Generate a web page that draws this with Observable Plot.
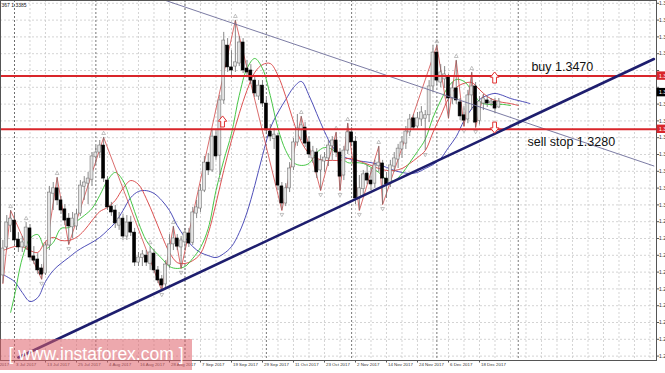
<!DOCTYPE html>
<html><head><meta charset="utf-8">
<script src="https://cdn.jsdelivr.net/npm/d3@7"></script>
<script src="https://cdn.jsdelivr.net/npm/@observablehq/plot@0.6"></script>
<style>
html,body{margin:0;padding:0;background:#fff;overflow:hidden;}
#wrap{position:relative;width:665px;height:373px;overflow:hidden;}
#wm{position:absolute;left:0;top:339px;width:192px;height:31px;background:rgba(222,96,106,0.55);color:#fff;font:17.5px "Liberation Sans",Arial,sans-serif;line-height:31px;text-align:center;white-space:nowrap;}
</style></head><body>
<div id="wrap"><div id="chart"></div><div id="wm">[ www.instaforex.com ]</div></div>
<script>
// ---- candle data (daily bars, bar index 0 = 3 Jul 2017) ----
const FIRST_BAR = -3;
const opens = [1.2758,1.2858,1.2936,1.2954,1.2886,1.2858,1.2861,1.2926,1.2826,1.2815,1.2783,1.2765,1.2865,1.3050,1.3069,1.3026,1.2994,1.2961,1.2930,1.2933,1.2979,1.3075,1.3086,1.3100,1.3180,1.3197,1.3222,1.3097,1.3004,1.2990,1.2936,1.2961,1.2897,1.2947,1.2911,1.2804,1.2820,1.2829,1.2800,1.2836,1.2776,1.2744,1.2726,1.2794,1.2869,1.2890,1.2858,1.2876,1.2908,1.2875,1.2979,1.2997,1.3061,1.3161,1.3133,1.3254,1.3186,1.3383,1.3579,1.3501,1.3504,1.3515,1.3590,1.3497,1.3490,1.3454,1.3397,1.3436,1.3372,1.3272,1.3245,1.3255,1.3076,1.3015,1.3069,1.3144,1.3233,1.3276,1.3286,1.3233,1.3176,1.3197,1.3133,1.3165,1.3176,1.3219,1.3240,1.3197,1.3115,1.3204,1.3269,1.3236,1.3033,1.3066,1.3122,1.3097,1.3086,1.3148,1.3158,1.3104,1.3086,1.3147,1.3172,1.3208,1.3229,1.3269,1.3319,1.3290,1.3315,1.3318,1.3330,1.3433,1.3554,1.3447,1.3458,1.3470,1.3390,1.3426,1.3376,1.3330,1.3315,1.3401,1.3433,1.3310,1.3372,1.3383,1.3372,1.3379,1.3358];
const highs = [1.2883,1.2972,1.2990,1.2976,1.2911,1.2897,1.2947,1.2940,1.2861,1.2836,1.2797,1.2876,1.3076,1.3090,1.3108,1.3040,1.3011,1.2979,1.2983,1.2994,1.3097,1.3111,1.3126,1.3197,1.3219,1.3240,1.3251,1.3111,1.3019,1.3008,1.2983,1.2976,1.2972,1.2969,1.2926,1.2840,1.2847,1.2847,1.2861,1.2851,1.2790,1.2758,1.2811,1.2904,1.2933,1.2904,1.2897,1.2926,1.2926,1.3001,1.3026,1.3083,1.3183,1.3194,1.3276,1.3276,1.3401,1.3626,1.3604,1.3561,1.3669,1.3611,1.3604,1.3526,1.3511,1.3469,1.3454,1.3454,1.3390,1.3297,1.3283,1.3265,1.3090,1.3086,1.3161,1.3247,1.3333,1.3326,1.3304,1.3254,1.3219,1.3211,1.3186,1.3197,1.3240,1.3254,1.3269,1.3211,1.3219,1.3301,1.3286,1.3254,1.3115,1.3133,1.3151,1.3140,1.3169,1.3219,1.3169,1.3126,1.3169,1.3197,1.3226,1.3254,1.3290,1.3333,1.3333,1.3340,1.3361,1.3347,1.3454,1.3579,1.3579,1.3511,1.3504,1.3476,1.3447,1.3526,1.3390,1.3361,1.3419,1.3483,1.3447,1.3397,1.3404,1.3397,1.3390,1.3390,1.3390];
const lows = [1.2729,1.2847,1.2911,1.2869,1.2840,1.2840,1.2847,1.2811,1.2797,1.2761,1.2744,1.2758,1.2847,1.2990,1.3008,1.2976,1.2936,1.2868,1.2890,1.2919,1.2969,1.3026,1.3011,1.3076,1.3151,1.3176,1.3090,1.2990,1.2969,1.2926,1.2919,1.2883,1.2883,1.2897,1.2790,1.2790,1.2790,1.2790,1.2776,1.2765,1.2729,1.2704,1.2715,1.2783,1.2847,1.2847,1.2783,1.2847,1.2858,1.2865,1.2961,1.2983,1.3054,1.3115,1.3126,1.3169,1.3115,1.3369,1.3483,1.3461,1.3483,1.3504,1.3479,1.3469,1.3440,1.3394,1.3383,1.3358,1.3261,1.3236,1.3208,1.3061,1.2990,1.3004,1.3054,1.3133,1.3219,1.3240,1.3215,1.3176,1.3158,1.3104,1.3061,1.3126,1.3147,1.3169,1.3179,1.3061,1.3097,1.3190,1.3219,1.3011,1.2990,1.3040,1.3083,1.3061,1.3069,1.3126,1.3011,1.3033,1.3072,1.3126,1.3140,1.3176,1.3208,1.3254,1.3276,1.3283,1.3290,1.3204,1.3304,1.3411,1.3436,1.3429,1.3426,1.3319,1.3369,1.3369,1.3311,1.3290,1.3300,1.3347,1.3286,1.3296,1.3347,1.3358,1.3361,1.3336,1.3354];
const closes = [1.2854,1.2947,1.2961,1.2883,1.2858,1.2876,1.2929,1.2822,1.2811,1.2776,1.2761,1.2865,1.3054,1.3069,1.3026,1.2990,1.2954,1.2933,1.2961,1.2976,1.3079,1.3090,1.3104,1.3183,1.3197,1.3222,1.3104,1.3001,1.2983,1.2944,1.2961,1.2897,1.2947,1.2911,1.2804,1.2822,1.2833,1.2804,1.2840,1.2776,1.2740,1.2722,1.2797,1.2869,1.2890,1.2861,1.2883,1.2911,1.2872,1.2983,1.3001,1.3061,1.3161,1.3133,1.3254,1.3183,1.3383,1.3597,1.3501,1.3490,1.3519,1.3590,1.3490,1.3483,1.3454,1.3408,1.3436,1.3372,1.3276,1.3254,1.3261,1.3079,1.3015,1.3069,1.3140,1.3233,1.3283,1.3294,1.3229,1.3190,1.3201,1.3126,1.3169,1.3179,1.3222,1.3240,1.3197,1.3111,1.3204,1.3269,1.3233,1.3033,1.3069,1.3119,1.3097,1.3083,1.3151,1.3161,1.3104,1.3083,1.3151,1.3176,1.3211,1.3233,1.3272,1.3315,1.3286,1.3319,1.3340,1.3330,1.3433,1.3554,1.3454,1.3483,1.3476,1.3390,1.3426,1.3383,1.3326,1.3311,1.3401,1.3433,1.3304,1.3379,1.3390,1.3372,1.3379,1.3354,1.3379];

// ---- Alligator lines ----
const jawIdx = [-4,-2,0,2,4,6,8,10,12,14,16,18,20,22,24,26,28,30,32,34,36,38,40,42,44,46,48,50,52,54,56,58,60,62,64,66,68,70,72,74,76,78,80,82,84,86,88,90,92,94,96,98,100,102,104,106,108,110,112,114,116,118,120,122,124,126,128,130,132,133];
const jaw = [1.2769,1.2754,1.2736,1.2697,1.2665,1.2679,1.2736,1.2776,1.2801,1.2822,1.2844,1.2861,1.2876,1.2894,1.2919,1.2947,1.2990,1.3036,1.3058,1.3061,1.3051,1.3026,1.2990,1.2936,1.2894,1.2861,1.2840,1.2829,1.2822,1.2836,1.2861,1.2911,1.2983,1.3079,1.3186,1.3283,1.3340,1.3386,1.3429,1.3451,1.3401,1.3336,1.3272,1.3219,1.3190,1.3176,1.3169,1.3165,1.3161,1.3154,1.3144,1.3133,1.3126,1.3122,1.3126,1.3140,1.3154,1.3176,1.3215,1.3254,1.3311,1.3354,1.3386,1.3401,1.3408,1.3401,1.3390,1.3383,1.3376,1.3372];
const teethIdx = [-3,0,2,4,6,8,10,12,14,16,18,20,22,24,26,28,30,32,34,36,38,40,42,44,46,48,50,52,54,56,58,60,62,64,66,68,70,72,74,76,78,80,82,84,86,88,90,92,94,96,98,100,102,104,106,108,110,112,114,116,118,120,122,124,126,128,130];
const teeth = [1.2847,1.2861,1.2861,1.2847,1.2840,1.2879,1.2894,1.2883,1.2883,1.2894,1.2919,1.2954,1.2986,1.3001,1.3026,1.3069,1.3097,1.3083,1.3033,1.2969,1.2901,1.2840,1.2804,1.2801,1.2811,1.2836,1.2908,1.3015,1.3133,1.3240,1.3336,1.3419,1.3483,1.3511,1.3515,1.3472,1.3397,1.3308,1.3236,1.3194,1.3176,1.3169,1.3169,1.3169,1.3176,1.3172,1.3161,1.3151,1.3140,1.3133,1.3133,1.3140,1.3158,1.3179,1.3204,1.3269,1.3329,1.3390,1.3429,1.3444,1.3447,1.3422,1.3397,1.3383,1.3376,1.3372,1.3365];
const lipsIdx = [-1,0,2,4,6,8,10,12,14,16,18,20,22,24,26,28,30,32,34,36,38,40,42,44,46,48,50,52,54,56,58,60,62,64,66,68,70,72,74,76,78,80,82,84,86,88,90,92,94,96,98,100,102,104,106,108,110,112,114,116,118,120,122,124,126,128];
const lips = [1.2626,1.2686,1.2819,1.2890,1.2904,1.2854,1.2876,1.2926,1.2929,1.2951,1.2972,1.2997,1.3044,1.3097,1.3126,1.3097,1.3026,1.2947,1.2883,1.2847,1.2819,1.2790,1.2783,1.2790,1.2819,1.2858,1.2926,1.3061,1.3169,1.3265,1.3401,1.3497,1.3533,1.3497,1.3401,1.3283,1.3204,1.3161,1.3151,1.3158,1.3197,1.3215,1.3208,1.3186,1.3161,1.3161,1.3158,1.3144,1.3126,1.3101,1.3097,1.3122,1.3161,1.3201,1.3244,1.3322,1.3383,1.3433,1.3458,1.3451,1.3419,1.3379,1.3369,1.3369,1.3369,1.3365];

// ---- ZigZag & fractals ----
const zzIdx = [-3,-1,7,11,14,23,38,41,43,57,69,74,79,83,84,86,89,94,95,109,112,114,116,118,119,121];
const zzPrice = [1.2729,1.2990,1.2744,1.3108,1.2868,1.3251,1.2704,1.2933,1.2783,1.3669,1.2990,1.3326,1.3061,1.3269,1.3061,1.3301,1.2990,1.3219,1.3011,1.3579,1.3319,1.3526,1.3290,1.3483,1.3286,1.3404];
const fractalUp = [-1,3,11,23,35,41,57,74,83,86,94,109,114,118];
const fractalDown = [7,14,38,43,53,69,79,84,89,95,106,116,119];

// ---- drawn objects ----
const trendUpIdx = [1,165], trendUpPrice = [1.2465,1.3531];
const trendDownIdx = [39,165], trendDownPrice = [1.3740,1.3149];
const levels = [1.3470,1.3280];
const levelTexts = ["buy 1.3470","sell stop 1.3280"];
const levelTextIdx = [133.4,132.4], levelTextPrice = [1.3504,1.3233];
const arrowsUp = [{i:53.7,p:1.3308},{i:123.9,p:1.3465}];
const arrowsDown = [{i:123.9,p:1.3286}];
const lastPrice = 1.3411;

// ---- axes ----
const priceTicks = [1.2470,1.2530,1.2590,1.2650,1.2710,1.2770,1.2830,1.2890,1.2950,1.3010,1.3070,1.3130,1.3190,1.3250,1.3310,1.3370,1.3430,1.3490,1.3550,1.3610,1.3670,1.3730];
const dateTickIdx = [-8,0,8,16,24,32,40,48,56,64,72,80,88,96,104,112,120];
const dateTickLabels = ["21 Jun 2017","3 Jul 2017","13 Jul 2017","25 Jul 2017","4 Aug 2017","16 Aug 2017","28 Aug 2017","7 Sep 2017","19 Sep 2017","29 Sep 2017","11 Oct 2017","23 Oct 2017","2 Nov 2017","14 Nov 2017","24 Nov 2017","6 Dec 2017","18 Dec 2017"];
const monthStartIdx = [0,21,44,65,87,109,130];
const headerText = "367 1.3385";

const XMIN = -3.613, XMAX = 165.68, YMIN = 1.24543, YMAX = 1.3740;

const bars = opens.map((o,k)=>({i:k+FIRST_BAR,o,h:highs[k],l:lows[k],c:closes[k]}));
const series = (idx,val)=>idx.map((i,k)=>({i,p:val[k]}));
const barById = new Map(bars.map(b=>[b.i,b]));
const upMarks = fractalUp.map(i=>({i,p:barById.get(i).h}));
const dnMarks = fractalDown.map(i=>({i,p:barById.get(i).l}));
const dateTicks = dateTickIdx.map((i,k)=>({i,t:dateTickLabels[k]}));
const boxed = [...levels, lastPrice];
const tickLabels = priceTicks.filter(t=>boxed.every(b=>Math.abs(b-t)>0.0022));

const arrowSym = {draw(ctx,size){const s=Math.sqrt(size)/2;
  ctx.moveTo(0,-s*1.25);ctx.lineTo(s*0.95,-s*0.05);ctx.lineTo(s*0.42,-s*0.05);ctx.lineTo(s*0.42,s*1.25);
  ctx.lineTo(-s*0.42,s*1.25);ctx.lineTo(-s*0.42,-s*0.05);ctx.lineTo(-s*0.95,-s*0.05);ctx.closePath();}};

const font = "'Liberation Sans', Arial, sans-serif";
const chart = Plot.plot({
  width: 665, height: 373,
  marginLeft: 0, marginRight: 9, marginTop: 0, marginBottom: 13,
  x: {type:"linear", domain:[XMIN, XMAX], axis:null},
  y: {type:"linear", domain:[YMIN, YMAX], axis:null},
  style: {background:"#fff", fontFamily: font},
  marks: [
    Plot.ruleY(priceTicks, {stroke:"#c9c9c9", strokeWidth:0.8, strokeDasharray:"2,2"}),
    Plot.ruleX(d3.range(0, 166, 4), {stroke:"#c9c9c9", strokeWidth:0.8, strokeDasharray:"2,2"}),
    Plot.ruleX(monthStartIdx, {stroke:"#555", strokeWidth:0.8, strokeDasharray:"2,2"}),
    Plot.line(series(jawIdx, jaw), {x:"i", y:"p", stroke:"#3b3bb0", strokeWidth:0.9, curve:"catmull-rom"}),
    Plot.line(series(teethIdx, teeth), {x:"i", y:"p", stroke:"#d84040", strokeWidth:0.9, curve:"catmull-rom"}),
    Plot.line(series(lipsIdx, lips), {x:"i", y:"p", stroke:"#33c033", strokeWidth:0.9, curve:"catmull-rom"}),
    Plot.line(series(zzIdx, zzPrice), {x:"i", y:"p", stroke:"#d04848", strokeWidth:0.8}),
    Plot.ruleX(bars, {x:"i", y1:"l", y2:"h", stroke:"#6a6a6a", strokeWidth:0.8}),
    Plot.rect(bars, {x1:d=>d.i-0.38, x2:d=>d.i+0.38, y1:"o", y2:"c",
      fill:d=>d.c>=d.o?"#e4e4e4":"#000", stroke:d=>d.c>=d.o?"#777":"#000", strokeWidth:0.6}),
    Plot.dot(upMarks, {x:"i", y:"p", dy:-4, r:1.4, symbol:"triangle", stroke:"#999", strokeWidth:0.6, fill:"none"}),
    Plot.dot(dnMarks, {x:"i", y:"p", dy:4, r:1.4, symbol:"triangle", rotate:180, stroke:"#999", strokeWidth:0.6, fill:"none"}),
    Plot.line(series(trendDownIdx, trendDownPrice), {x:"i", y:"p", stroke:"#6d6d9a", strokeWidth:0.9, clip:true}),
    Plot.ruleY(levels, {stroke:"#d9262b", strokeWidth:2}),
    Plot.line(series(trendUpIdx, trendUpPrice), {x:"i", y:"p", stroke:"#1e1e6e", strokeWidth:2.6, clip:true}),
    Plot.dot(arrowsUp, {x:"i", y:"p", r:5, symbol:arrowSym, stroke:"#e03030", strokeWidth:1, fill:"#fff"}),
    Plot.dot(arrowsDown, {x:"i", y:"p", r:5, symbol:arrowSym, rotate:180, stroke:"#e03030", strokeWidth:1, fill:"#fff"}),
    Plot.text(levelTexts, {x:(d,k)=>levelTextIdx[k], y:(d,k)=>levelTextPrice[k], text:d=>d, textAnchor:"start", fontSize:12.5, fill:"#111"}),
    Plot.frame({stroke:"#555", strokeWidth:1}),
    // right axis
    Plot.ruleY(priceTicks, {x1:XMAX, x2:XMAX+0.8, stroke:"#555"}),
    Plot.text(tickLabels, {x:XMAX, y:d=>d, text:d=>d.toFixed(4), dx:2.5, textAnchor:"start", fontSize:5, fill:"#333"}),
    Plot.rect(levels, {x1:XMAX+0.15, x2:XMAX+4, y1:d=>d-0.0015, y2:d=>d+0.0015, fill:"#d9262b"}),
    Plot.text(levels, {x:XMAX, y:d=>d, text:d=>d.toFixed(4), dx:2.5, textAnchor:"start", fontSize:5, fill:"#fff"}),
    Plot.rect([lastPrice], {x1:XMAX+0.15, x2:XMAX+4, y1:d=>d-0.0015, y2:d=>d+0.0015, fill:"#000"}),
    Plot.text([lastPrice], {x:XMAX, y:d=>d, text:d=>d.toFixed(4), dx:2.5, textAnchor:"start", fontSize:5, fill:"#fff"}),
    // bottom axis
    Plot.ruleX(dateTickIdx.filter(i=>i>XMIN), {y1:YMIN, y2:YMIN-0.0009, stroke:"#555"}),
    Plot.text(dateTicks, {x:"i", y:YMIN, text:"t", dx:1.5, dy:4.5, textAnchor:"start", fontSize:4.4, fill:"#333"}),
    Plot.text([headerText], {frameAnchor:"top-left", dx:1, dy:3, fontSize:5, fill:"#222"})
  ]
});
document.getElementById("chart").appendChild(chart);
</script>
</body></html>
